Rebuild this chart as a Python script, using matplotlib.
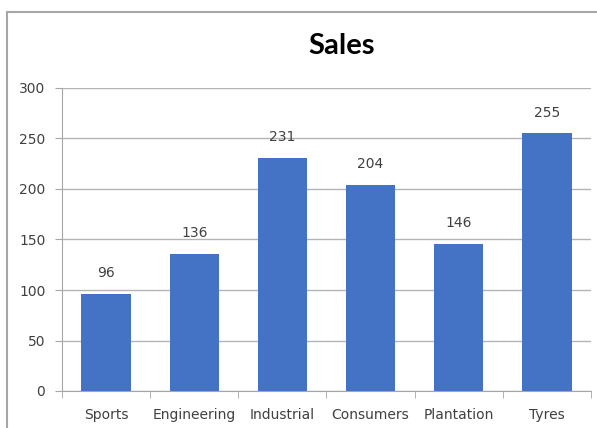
import matplotlib.pyplot as plt
from matplotlib.patches import Rectangle
import numpy as np

categories = ["Sports", "Engineering", "Industrial", "Consumers", "Plantation", "Tyres"]
sales = [96, 136, 231, 204, 146, 255]
y_ticks = [0, 50, 100, 150, 200, 250, 300]

plt.rcParams['font.family'] = ['DejaVu Sans']

fig = plt.figure(figsize=(5.97, 4.28), dpi=100)

# outer chart frame (Excel-like border, cropped on right/bottom)
frame = Rectangle((7 / 597, -0.05), 1.2, (428 - 12) / 428 + 0.05,
                  transform=fig.transFigure, fill=False,
                  edgecolor="#a6a6a6", linewidth=1.5)
fig.patches.append(frame)

ax = fig.add_axes([62 / 597, (428 - 391) / 428, (591 - 62) / 597, (391 - 88) / 428])

x = np.arange(len(categories))
bars = ax.bar(x, sales, width=0.56, color="#4472C4", zorder=3)

for b, v in zip(bars, sales):
    ax.annotate(str(v), (b.get_x() + b.get_width() / 2, v),
                xytext=(0, 10), textcoords="offset points",
                ha="center", va="bottom", fontsize=10, color="#404040")

ax.set_xlim(-0.5, len(categories) - 0.5)
ax.set_ylim(0, 300)
ax.set_yticks(y_ticks)
ax.yaxis.grid(True, color="#b4b4b4", linewidth=1, zorder=0)

ax.set_xticks(x)
ax.set_xticklabels(categories)
ax.set_xticks(np.arange(len(categories) + 1) - 0.5, minor=True)
ax.tick_params(axis="x", which="major", length=0, pad=12, labelsize=10, labelcolor="#404040")
ax.tick_params(axis="x", which="minor", length=5, color="#a6a6a6", direction="out")
ax.tick_params(axis="y", length=5, color="#a6a6a6", pad=7, labelsize=10, labelcolor="#404040")

for s in ["top", "right"]:
    ax.spines[s].set_visible(False)
ax.spines["left"].set_color("#a6a6a6")
ax.spines["bottom"].set_color("#a6a6a6")

fig.text(342 / 597, 1 - 46 / 428, "Sales", ha="center", va="center",
         fontsize=21, fontweight="bold", color="#000000", family="Lato")

fig.savefig("out.png", dpi=100)
